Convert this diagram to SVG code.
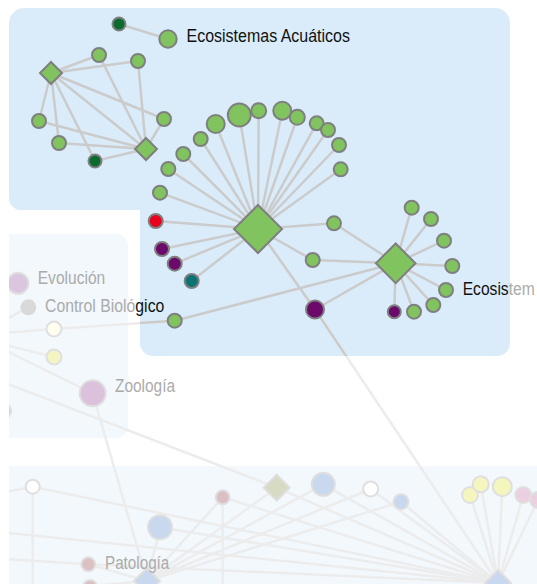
<svg xmlns="http://www.w3.org/2000/svg" width="537" height="584" viewBox="0 0 537 584">
<style>
.e{stroke:#cbcbcb;stroke-width:2.5;fill:none}
.ef{stroke:#ececec;stroke-width:2.5;fill:none}
.n{stroke:#7f7f7f;stroke-width:2}
.g{fill:#80c35f}
.dg{fill:#0b6b2e}
.pu{fill:#6c0a6b}
.nf{stroke:#dfdfdf;stroke-width:2}
.t{font-family:"Liberation Sans",Arial,sans-serif;font-size:17.5px}
.tf{fill:#ababab}
.tb{fill:#111111}
</style>
<defs>
<path id="reg" d="M24,8 H495 A15,15 0 0 1 510,23 V343 A13,13 0 0 1 497,356 H153 A13,13 0 0 1 140,343 V210 H21 A12,12 0 0 1 9,198 V23 A15,15 0 0 1 24,8 Z"/>
<clipPath id="regClip"><use href="#reg"/></clipPath>
<clipPath id="view"><rect x="9" y="0" width="528" height="584"/></clipPath>
</defs>
<g clip-path="url(#view)">
<g id="regions">
<rect x="-5" y="234" width="133" height="204" rx="12" fill="#f3f8fd"/>
<rect x="0" y="466" width="560" height="140" fill="#f3f8fd"/>
<use href="#reg" fill="#daecfa"/>
</g>
<g id="connectors">
<line class="ef" x1="28.3" y1="307.3" x2="-10" y2="328"/>
<line class="ef" x1="54" y1="329" x2="-10" y2="334"/>
<line class="ef" x1="54" y1="357" x2="-10" y2="341"/>
<line class="ef" x1="92.7" y1="393.3" x2="-10" y2="343"/>
<line class="ef" x1="-10" y1="377" x2="276.7" y2="487.7"/>
<line class="ef" x1="92.7" y1="393.3" x2="147" y2="581"/>
<line class="ef" x1="54" y1="329" x2="174.7" y2="320.7"/>
<line class="ef" x1="315" y1="309.5" x2="498" y2="583"/>
<line class="ef" x1="32.7" y1="486.7" x2="-10" y2="495"/>
<line class="ef" x1="32.7" y1="486.7" x2="32.7" y2="600"/>
<line class="ef" x1="32.7" y1="486.7" x2="498" y2="583"/>
<line class="ef" x1="-10" y1="531" x2="498" y2="583"/>
<line class="ef" x1="-10" y1="558" x2="88.3" y2="564.3"/>
<line class="ef" x1="88.3" y1="564.3" x2="498" y2="583"/>
<line class="ef" x1="147" y1="581" x2="160" y2="527.3"/>
<line class="ef" x1="147" y1="581" x2="222.7" y2="497.3"/>
<line class="ef" x1="147" y1="581" x2="276.7" y2="487.7"/>
<line class="ef" x1="147" y1="581" x2="323.3" y2="484.3"/>
<line class="ef" x1="147" y1="581" x2="370.7" y2="489"/>
<line class="ef" x1="147" y1="581" x2="401" y2="501.7"/>
<line class="ef" x1="147" y1="581" x2="88.3" y2="564.3"/>
<line class="ef" x1="147" y1="581" x2="90" y2="586"/>
<line class="ef" x1="222.7" y1="497.3" x2="222.7" y2="600"/>
<line class="ef" x1="498" y1="583" x2="276.7" y2="487.7"/>
<line class="ef" x1="498" y1="583" x2="323.3" y2="484.3"/>
<line class="ef" x1="498" y1="583" x2="370.7" y2="489"/>
<line class="ef" x1="498" y1="583" x2="401" y2="501.7"/>
<line class="ef" x1="498" y1="583" x2="470" y2="495"/>
<line class="ef" x1="498" y1="583" x2="480.7" y2="484.3"/>
<line class="ef" x1="498" y1="583" x2="502.3" y2="486.7"/>
<line class="ef" x1="498" y1="583" x2="523.3" y2="495"/>
<line class="ef" x1="498" y1="583" x2="538" y2="500"/>
<line class="ef" x1="498" y1="583" x2="160" y2="527.3"/>
<line class="ef" x1="498" y1="583" x2="222.7" y2="497.3"/>
<g clip-path="url(#regClip)">
<line class="e" x1="54" y1="329" x2="174.7" y2="320.7"/>
<line class="e" x1="315" y1="309.5" x2="498" y2="583"/>
</g>
<line class="e" x1="119" y1="24" x2="168" y2="39"/>
<line class="e" x1="51" y1="73" x2="99" y2="55"/>
<line class="e" x1="51" y1="73" x2="138" y2="61"/>
<line class="e" x1="51" y1="73" x2="39" y2="121"/>
<line class="e" x1="51" y1="73" x2="59" y2="143"/>
<line class="e" x1="51" y1="73" x2="95" y2="161"/>
<line class="e" x1="51" y1="73" x2="164" y2="119"/>
<line class="e" x1="51" y1="73" x2="146" y2="149"/>
<line class="e" x1="146" y1="149" x2="99" y2="55"/>
<line class="e" x1="146" y1="149" x2="138" y2="61"/>
<line class="e" x1="146" y1="149" x2="39" y2="121"/>
<line class="e" x1="146" y1="149" x2="59" y2="143"/>
<line class="e" x1="146" y1="149" x2="95" y2="161"/>
<line class="e" x1="146" y1="149" x2="164" y2="119"/>
<line class="e" x1="258" y1="229" x2="200.7" y2="139"/>
<line class="e" x1="258" y1="229" x2="183.3" y2="154"/>
<line class="e" x1="258" y1="229" x2="168.3" y2="169"/>
<line class="e" x1="258" y1="229" x2="160" y2="192.7"/>
<line class="e" x1="258" y1="229" x2="155.7" y2="221"/>
<line class="e" x1="258" y1="229" x2="162" y2="249"/>
<line class="e" x1="258" y1="229" x2="174.7" y2="263.7"/>
<line class="e" x1="258" y1="229" x2="191.7" y2="281"/>
<line class="e" x1="258" y1="229" x2="215.7" y2="124"/>
<line class="e" x1="258" y1="229" x2="239.3" y2="115"/>
<line class="e" x1="258" y1="229" x2="258.7" y2="110.7"/>
<line class="e" x1="258" y1="229" x2="282.3" y2="110.7"/>
<line class="e" x1="258" y1="229" x2="297.3" y2="117.3"/>
<line class="e" x1="258" y1="229" x2="316.7" y2="123.3"/>
<line class="e" x1="258" y1="229" x2="328" y2="130"/>
<line class="e" x1="258" y1="229" x2="339" y2="145"/>
<line class="e" x1="258" y1="229" x2="340.7" y2="169.3"/>
<line class="e" x1="258" y1="229" x2="334" y2="223.3"/>
<line class="e" x1="258" y1="229" x2="312.7" y2="260"/>
<line class="e" x1="258" y1="229" x2="315" y2="309.5"/>
<line class="e" x1="395.7" y1="263.3" x2="334" y2="223.3"/>
<line class="e" x1="395.7" y1="263.3" x2="312.7" y2="260"/>
<line class="e" x1="395.7" y1="263.3" x2="315" y2="309.5"/>
<line class="e" x1="395.7" y1="263.3" x2="174.7" y2="320.7"/>
<line class="e" x1="395.7" y1="263.3" x2="411.7" y2="207.7"/>
<line class="e" x1="395.7" y1="263.3" x2="431" y2="219"/>
<line class="e" x1="395.7" y1="263.3" x2="444" y2="240.7"/>
<line class="e" x1="395.7" y1="263.3" x2="452.3" y2="266"/>
<line class="e" x1="395.7" y1="263.3" x2="446" y2="290"/>
<line class="e" x1="395.7" y1="263.3" x2="433.3" y2="305"/>
<line class="e" x1="395.7" y1="263.3" x2="414" y2="311.7"/>
<line class="e" x1="395.7" y1="263.3" x2="394.3" y2="311.7"/>
</g>
<g id="faded-nodes">
<circle id="n-evolucion" class="nf" cx="18" cy="283.3" r="10.5" fill="#dbc6df"/>
<circle id="n-control" cx="28.3" cy="307.3" r="8" fill="#d9d9d9"/>
<circle id="n-w1" class="nf" cx="54" cy="329" r="7.5" fill="#fdfdf0"/>
<circle id="n-y1" class="nf" cx="54" cy="357" r="7.5" fill="#f3f5c3"/>
<circle id="n-zoologia" class="nf" cx="92.7" cy="393.3" r="13" fill="#dcc1dc"/>
<circle id="n-pk" class="nf" cx="3" cy="411" r="8" fill="#e5c4d9"/>
<circle id="n-bw" class="nf" cx="32.7" cy="486.7" r="7" fill="#ffffff"/>
<circle id="n-bp" class="nf" cx="222.7" cy="497.3" r="7" fill="#dbbfc3"/>
<circle id="n-blb" class="nf" cx="160" cy="527.3" r="12" fill="#c8d8ee"/>
<circle id="n-patologia" class="nf" cx="88.3" cy="564.3" r="7" fill="#dcc0c3"/>
<circle id="n-pat2" class="nf" cx="90" cy="587" r="7" fill="#dcc0c3"/>
<polygon id="n-d1" class="nf" points="147,568 160,581 147,594 134,581" fill="#c8d8ee"/>
<polygon id="n-od" class="nf" points="276.7,474.7 289.7,487.7 276.7,500.7 263.7,487.7" fill="#d7dbc3"/>
<circle id="n-lb2" class="nf" cx="323.3" cy="484.3" r="11.5" fill="#c8d8ee"/>
<circle id="n-bw2" class="nf" cx="370.7" cy="489" r="7.5" fill="#ffffff"/>
<circle id="n-lb3" class="nf" cx="401" cy="501.7" r="7.5" fill="#c8d8ee"/>
<circle id="n-y2" class="nf" cx="470" cy="495" r="8" fill="#f4f6bd"/>
<circle id="n-y3" class="nf" cx="480.7" cy="484.3" r="8" fill="#f4f6bd"/>
<circle id="n-y4" class="nf" cx="502.3" cy="486.7" r="9.5" fill="#f4f6bd"/>
<circle id="n-pk2" class="nf" cx="523.3" cy="495" r="8" fill="#ecd0e2"/>
<circle id="n-pk3" class="nf" cx="538" cy="500" r="8" fill="#ecd0e2"/>
<polygon id="n-d2" class="nf" points="498,570 511,583 498,596 485,583" fill="#c8d8ee"/>
</g>
<g id="nodes">
<circle id="n1" class="n dg" cx="119" cy="24" r="6.5"/>
<circle id="n-ecoacu" class="n g" cx="168" cy="39" r="8.7"/>
<polygon id="dL" class="n g" points="51,62 62,73 51,84 40,73"/>
<circle id="n3" class="n g" cx="99" cy="55" r="7"/>
<circle id="n4" class="n g" cx="138" cy="61" r="7"/>
<circle id="n5" class="n g" cx="39" cy="121" r="7"/>
<circle id="n6" class="n g" cx="59" cy="143" r="7"/>
<circle id="n7" class="n dg" cx="95" cy="161" r="6.5"/>
<circle id="n8" class="n g" cx="164" cy="119" r="7"/>
<polygon id="dR" class="n g" points="146,138 157,149 146,160 135,149"/>
<circle id="f1" class="n g" cx="200.7" cy="139" r="7"/>
<circle id="f2" class="n g" cx="183.3" cy="154" r="7"/>
<circle id="f3" class="n g" cx="168.3" cy="169" r="7"/>
<circle id="f4" class="n g" cx="160" cy="192.7" r="7"/>
<circle id="red" class="n" cx="155.7" cy="221" r="7" fill="#e8001d"/>
<circle id="p1" class="n pu" cx="162" cy="249" r="7"/>
<circle id="p2" class="n pu" cx="174.7" cy="263.7" r="7"/>
<circle id="teal" class="n" cx="191.7" cy="281" r="7" fill="#0b7373"/>
<circle id="f5" class="n g" cx="215.7" cy="124" r="9"/>
<circle id="f6" class="n g" cx="239.3" cy="115" r="11.5"/>
<circle id="f7" class="n g" cx="258.7" cy="110.7" r="7.5"/>
<circle id="f8" class="n g" cx="282.3" cy="110.7" r="9"/>
<circle id="f9" class="n g" cx="297.3" cy="117.3" r="7.5"/>
<circle id="f10" class="n g" cx="316.7" cy="123.3" r="7"/>
<circle id="f11" class="n g" cx="328" cy="130" r="7"/>
<circle id="f12" class="n g" cx="339" cy="145" r="7"/>
<circle id="f13" class="n g" cx="340.7" cy="169.3" r="7"/>
<circle id="f14" class="n g" cx="334" cy="223.3" r="7"/>
<circle id="f15" class="n g" cx="312.7" cy="260" r="7"/>
<circle id="pb" class="n pu" cx="315" cy="309.5" r="9"/>
<circle id="cb" class="n g" cx="174.7" cy="320.7" r="7"/>
<polygon id="M" class="n g" points="258,205 282,229 258,253 234,229"/>
<polygon id="D" class="n g" points="395.7,243.5 415.5,263.3 395.7,283.1 375.9,263.3"/>
<circle id="g1" class="n g" cx="411.7" cy="207.7" r="7"/>
<circle id="g2" class="n g" cx="431" cy="219" r="7"/>
<circle id="g3" class="n g" cx="444" cy="240.7" r="7"/>
<circle id="g4" class="n g" cx="452.3" cy="266" r="7"/>
<circle id="g5" class="n g" cx="446" cy="290" r="7"/>
<circle id="g6" class="n g" cx="433.3" cy="305" r="7"/>
<circle id="g7" class="n g" cx="414" cy="311.7" r="7"/>
<circle id="gp" class="n pu" cx="394.3" cy="311.7" r="6.5"/>
</g>
<g id="labels" class="t">
<text class="tb" x="186.5" y="42" textLength="163.5" lengthAdjust="spacingAndGlyphs">Ecosistemas Acuáticos</text>
<text class="tf" x="37.7" y="284" textLength="67.6" lengthAdjust="spacingAndGlyphs">Evolución</text>
<text class="tf" x="115" y="392" textLength="60" lengthAdjust="spacingAndGlyphs">Zoología</text>
<text class="tf" x="105" y="569" textLength="64.3" lengthAdjust="spacingAndGlyphs">Patología</text>
<text x="45" y="311.7" textLength="119.3" lengthAdjust="spacingAndGlyphs"><tspan class="tf">Control Bioló</tspan><tspan class="tb">gico</tspan></text>
<text x="462.7" y="295" textLength="72" lengthAdjust="spacingAndGlyphs"><tspan class="tb">Ecosis</tspan><tspan class="tf">tem</tspan></text>
</g>
</g>
</svg>
